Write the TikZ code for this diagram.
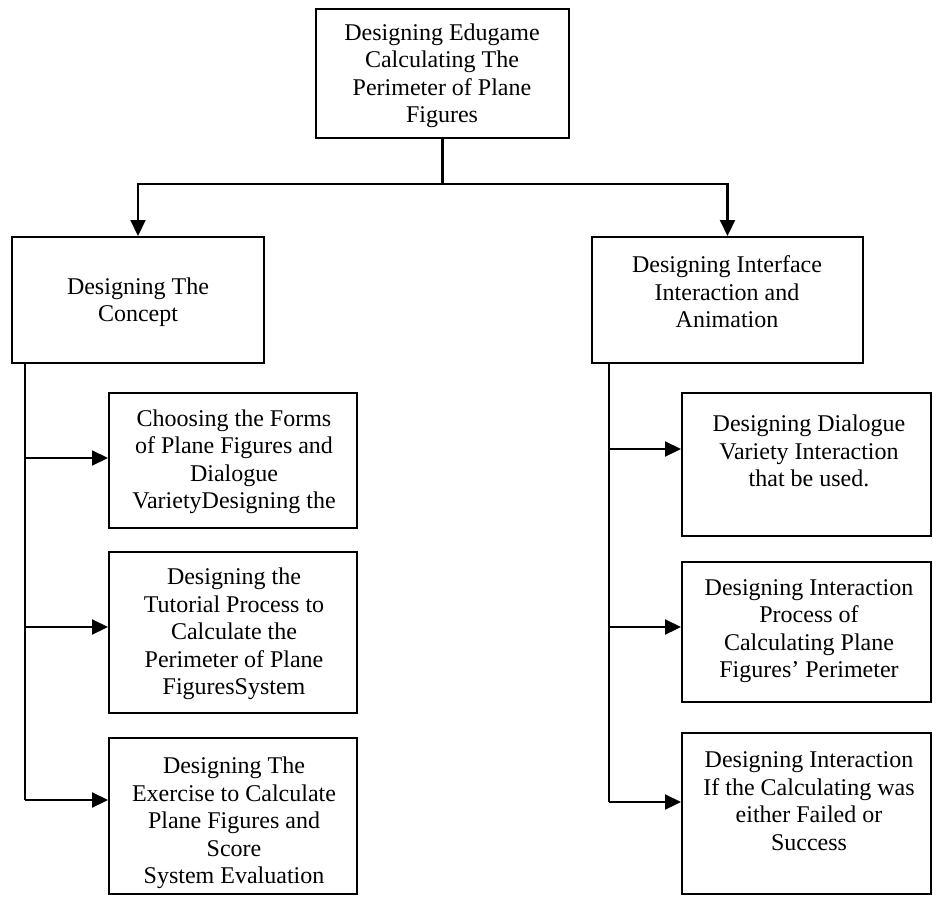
\documentclass[tikz,border=0pt]{standalone}
\usepackage{fontspec}
\setmainfont{Liberation Serif}
\usetikzlibrary{arrows.meta}
\tikzset{
  box/.style={draw=black, line width=2pt, rectangle, inner sep=0pt, fill=white},
  txt/.style={align=center, inner sep=0pt, font=\fontsize{24}{27.5}\selectfont},
  conn/.style={draw=black, line width=2.2pt},
  arr/.style={conn, -{Triangle[length=16pt,width=15pt]}}
}
\begin{document}
\begin{tikzpicture}[x=1pt,y=-1pt]
\useasboundingbox (0,0) rectangle (933,896);
% boxes
\node[box, minimum width=253pt, minimum height=129pt] (top) at (442.5,73.5) {};
\node[box, minimum width=252pt, minimum height=126pt] (L) at (138,300) {};
\node[box, minimum width=271pt, minimum height=126pt] (R) at (727.5,300) {};
\node[box, minimum width=248pt, minimum height=135pt] (L1) at (233,460.5) {};
\node[box, minimum width=248pt, minimum height=161pt] (L2) at (233,632.5) {};
\node[box, minimum width=248pt, minimum height=156pt] (L3) at (233,816) {};
\node[box, minimum width=249pt, minimum height=143pt] (R1) at (806.5,464.5) {};
\node[box, minimum width=249pt, minimum height=140pt] (R2) at (806.5,632) {};
\node[box, minimum width=249pt, minimum height=161pt] (R3) at (806.5,813.5) {};
% texts
\node[txt] (topt) at (442,76) {Designing Edugame\\Calculating The\\Perimeter of Plane\\Figures};
\node[txt] (Lt) at (138,302) {Designing The\\Concept};
\node[txt] (Rt) at (727,292) {Designing Interface\\Interaction and\\Animation};
\node[txt] (L1t) at (234,462) {Choosing the Forms\\of Plane Figures and\\Dialogue\\VarietyDesigning the};
\node[txt] (L2t) at (234,634) {Designing the\\Tutorial Process to\\Calculate the\\Perimeter of Plane\\FiguresSystem};
\node[txt] (L3t) at (234,823) {Designing The\\Exercise to Calculate\\Plane Figures and\\Score\\System Evaluation};
\node[txt] (R1t) at (809,451) {Designing Dialogue\\Variety Interaction\\that be used.};
\node[txt] (R2t) at (809,631) {Designing Interaction\\Process of\\Calculating Plane\\Figures’ Perimeter};
\node[txt] (R3t) at (809,801) {Designing Interaction\\If the Calculating was\\either Failed or\\Success};
% top connectors
\coordinate (hub) at (442.5,184);
\draw[conn] (top.south) -- (hub);
\draw[arr] (hub) -| (L.north);
\draw[arr] (hub) -| (R.north);
% left trunk
\coordinate (lb1) at (25,458);
\coordinate (lb2) at (25,627);
\coordinate (lb3) at (25,800);
\draw[conn] (L.south -| lb1) -- (lb3);
\draw[arr] (lb1) -- (lb1 -| L1.west);
\draw[arr] (lb2) -- (lb2 -| L2.west);
\draw[arr] (lb3) -- (lb3 -| L3.west);
% right trunk
\coordinate (rb1) at (609,449);
\coordinate (rb2) at (609,627);
\coordinate (rb3) at (609,802);
\draw[conn] (R.south -| rb1) -- (rb3);
\draw[arr] (rb1) -- (rb1 -| R1.west);
\draw[arr] (rb2) -- (rb2 -| R2.west);
\draw[arr] (rb3) -- (rb3 -| R3.west);
\end{tikzpicture}
\end{document}
